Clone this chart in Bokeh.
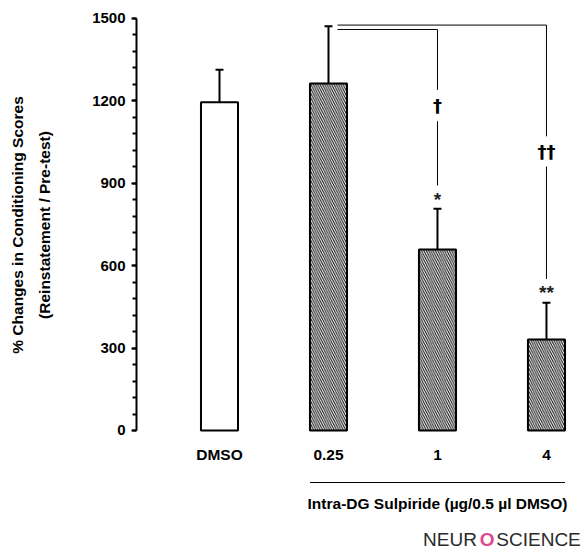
from bokeh.plotting import figure
from bokeh.layouts import column
from bokeh.models import (Range1d, LinearAxis, SingleIntervalTicker, FixedTicker,
                          Whisker, ColumnDataSource, TeeHead)
from bokeh.core.properties import value
from bokeh.embed import file_html
from bokeh.resources import INLINE

# ---- data ----
groups = ["DMSO", "0.25", "1", "4"]
means = [1195, 1263, 659, 331]
sems = [118, 209, 148, 134]
hatched = [False, True, True, True]
stars = ["", "", "*", "**"]
star_y = [0, 0, 846, 506]
daggers = ["", "", "\u2020", "\u2020\u2020"]
dagger_y = [0, 0, 1183, 1016]
bracket_level = [0, 0, 1460, 1476]
y_label_lines = ["% Changes in Conditioning Scores", "(Reinstatement / Pre-test)"]
group_label = "Intra-DG Sulpiride (\u00b5g/0.5 \u00b5l DMSO)"

FONT = "Liberation Sans"
xs = [i + 1 for i in range(len(groups))]
BAR_W = 0.34
xr = Range1d(0.2385, 4.349)

# ---------------- main chart ----------------
p = figure(width=584, height=440, output_backend="svg", toolbar_location=None,
           x_range=xr, y_range=Range1d(-14.6, 1510.9),
           x_axis_type=None, y_axis_type=None,
           min_border_left=136, min_border_right=0, min_border_top=15, min_border_bottom=6)
p.outline_line_color = None

yaxis = LinearAxis(bounds=(0, 1500), ticker=SingleIntervalTicker(interval=300, num_minor_ticks=5))
yaxis.axis_line_width = 2
yaxis.axis_line_color = "black"
yaxis.major_tick_line_width = 2
yaxis.minor_tick_line_width = 2
yaxis.major_tick_in = 0
yaxis.major_tick_out = 5
yaxis.minor_tick_in = 0
yaxis.minor_tick_out = 4
yaxis.major_label_text_font = FONT
yaxis.major_label_text_font_style = "bold"
yaxis.major_label_text_font_size = "15px"
yaxis.major_label_text_color = "black"
yaxis.major_label_standoff = 6
yaxis.axis_label = y_label_lines[1]
yaxis.axis_label_text_font = FONT
yaxis.axis_label_text_font_style = "bold"
yaxis.axis_label_text_font_size = "15.5px"
yaxis.axis_label_text_color = "black"
yaxis.axis_label_standoff = 36
p.add_layout(yaxis, "left")

yaxis2 = LinearAxis(ticker=FixedTicker(ticks=[]), axis_line_color=None,
                    major_tick_line_color=None, minor_tick_line_color=None,
                    major_label_text_font_size="0px")
yaxis2.axis_label = y_label_lines[0]
yaxis2.axis_label_text_font = FONT
yaxis2.axis_label_text_font_style = "bold"
yaxis2.axis_label_text_font_size = "15.5px"
yaxis2.axis_label_text_color = "black"
yaxis2.axis_label_standoff = 8
p.add_layout(yaxis2, "left")

# bars
plain_x = [x for x, h in zip(xs, hatched) if not h]
plain_top = [m for m, h in zip(means, hatched) if not h]
hat_x = [x for x, h in zip(xs, hatched) if h]
hat_top = [m for m, h in zip(means, hatched) if h]
p.vbar(x=plain_x, top=plain_top, bottom=0, width=BAR_W, fill_color="white",
       line_color="black", line_width=2)
p.vbar(x=hat_x, top=hat_top, bottom=0, width=BAR_W, fill_color="white",
       hatch_pattern="\\", hatch_scale=4.6, hatch_weight=1.1, hatch_color="#1a1a1a",
       line_color="black", line_width=2)

# error bars
esrc = ColumnDataSource(dict(x=xs, lower=means, upper=[m + s for m, s in zip(means, sems)]))
p.add_layout(Whisker(base="x", lower="lower", upper="upper", source=esrc,
                     line_width=2, line_color="black",
                     upper_head=TeeHead(size=8, line_width=2, line_color="black"),
                     lower_head=None))

# significance brackets
start_x = 2 + 0.083
for i in range(len(groups)):
    if bracket_level[i] == 0:
        continue
    lev = bracket_level[i]
    x = xs[i]
    gap = 57 if i == 2 else 55
    p.line([start_x, x, x], [lev, lev, dagger_y[i] + gap], line_color="black", line_width=1)
    p.line([x, x], [dagger_y[i] - gap, star_y[i] + 46], line_color="black", line_width=1)

sig_x = [x for x, s in zip(xs, stars) if s]
p.text(x=sig_x, y=[y for y, s in zip(dagger_y, daggers) if s], text=[s for s in daggers if s],
       text_font=value("DejaVu Sans"), text_font_style="bold", text_font_size="18px",
       text_align="center", text_baseline="middle", text_color="black")
p.text(x=sig_x, y=[y for y, s in zip(star_y, stars) if s], text=[s for s in stars if s],
       text_font=value(FONT), text_font_style="bold", text_font_size="19px",
       text_align="center", text_baseline="alphabetic", y_offset=1, text_color="#222222")

# ---------------- lower strip (category labels, group label, logo) ----------------
q = figure(width=584, height=110, output_backend="svg", toolbar_location=None,
           x_range=xr, y_range=Range1d(110, 0),
           x_axis_type=None, y_axis_type=None,
           min_border_left=136, min_border_right=0, min_border_top=0, min_border_bottom=0)
q.outline_line_color = None

q.text(x=xs, y=[14] * len(xs), text=groups, text_font=value(FONT), text_font_style="bold",
       text_font_size="15.5px", text_align="center", text_baseline="middle", text_color="black")
q.line([2 - BAR_W / 2, 4 + BAR_W / 2], [42, 42], line_color="black", line_width=1.2)
q.text(x=[3], y=[63], text=[group_label], text_font=value(FONT), text_font_style="bold",
       text_font_size="15.5px", text_align="center", text_baseline="middle", text_color="black")

q.text(x=[3.362], y=[99], text=["NEUR"], text_font=value(FONT), text_font_size="19px",
       text_align="right", text_baseline="middle", text_color="#2a2a2a")
q.text(x=[3.456], y=[99], text=["O"], text_font=value(FONT), text_font_style="bold",
       text_font_size="19px", text_align="center", text_baseline="middle", text_color="#e0468c")
q.text(x=[3.54], y=[99], text=["SCIENCE"], text_font=value(FONT), text_font_size="19px",
       text_align="left", text_baseline="middle", text_color="#2a2a2a")

layout = column(p, q, spacing=0)
open("out.html", "w").write(file_html(layout, INLINE))
